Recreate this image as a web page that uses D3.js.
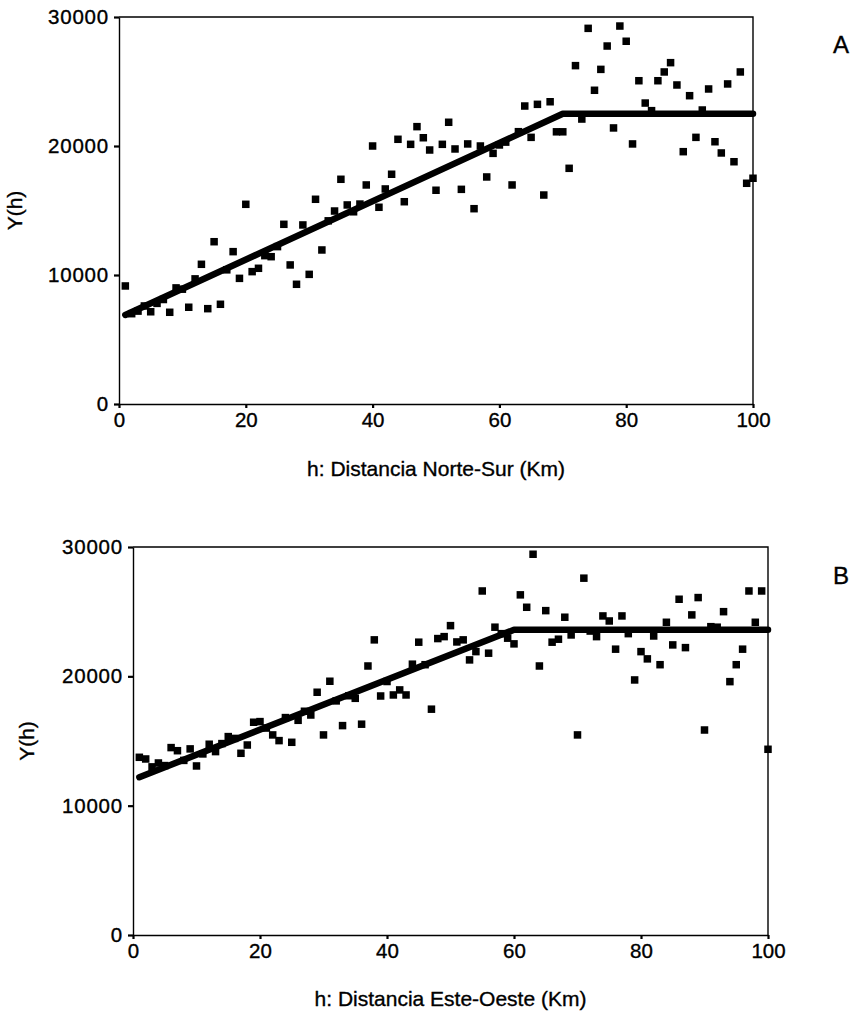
<!DOCTYPE html>
<meta charset="utf-8">
<script src="https://cdn.jsdelivr.net/npm/d3@7"></script>
<style>
  body { margin: 0; background: #fff; }
  svg text { font-family: "Liberation Sans", Arial, Helvetica, sans-serif; fill: #000; stroke: #000; stroke-width: 0.35px; }
</style>
<div id="container"></div>
<script>
 // lag distance h (km), shared by both panels
 var lagH = d3.range(1, 101);

 // panel A: experimental semivariogram, Norte-Sur
 var semivarA = [
   9150, 7000, 7200, 7600, 7150, 7800, 8100, 7110, 9000, 8900,
   7500, 9700, 10830, 7390, 12580, 7730, 10400, 11810, 9740, 15480,
   10260, 10520, 11500, 11420, 12200, 13930, 10780, 9280, 13880, 10050,
   15870, 11940, 14200, 14960, 17420, 15430, 14900, 15500, 16980, 20000,
   15250, 16670, 17810, 20520, 15680, 20130, 21500, 20640, 19690, 16570,
   20130, 21840, 19770, 16640, 20160, 15140, 20000, 17600, 19430, 20080,
   20300, 16980, 21110, 23100, 20670, 23230, 16200, 23430, 21100, 21100,
   18270, 26230, 22090, 29120, 24320, 25940, 27750, 21400, 29300, 28120,
   20160, 25060, 23330, 22740, 25060, 25740, 26460, 24730, 19560, 23900,
   20670, 22790, 24420, 20330, 19460, 24810, 18780, 25740, 17110, 17500
 ];
 // panel A: fitted model (knots)
 var modelAH = [1, 70, 100];
 var modelAY = [6900, 22500, 22500];

 // panel B: experimental semivariogram, Este-Oeste
 var semivarB = [
   13740, 13610, 13000, 13300, 13100, 14490, 14250, 13500, 14390, 13070,
   14000, 14750, 14180, 14800, 15340, 15200, 14050, 14690, 16450, 16500,
   16000, 15470, 15030, 16810, 14900, 16600, 17300, 17010, 18770, 15470,
   19620, 18100, 16190, 18500, 18300, 16300, 20800, 22820, 18480, 19600,
   18560, 18950, 18560, 20940, 22640, 20900, 17460, 22920, 23070, 23920,
   22660, 22820, 21270, 21910, 26600, 21790, 23800, 23300, 22950, 22510,
   26300, 25340, 29440, 20800, 25080, 22640, 22870, 24570, 23200, 15470,
   27590, 23500, 23070, 24670, 24280, 22100, 24670, 23300, 19720, 21910,
   21350, 23120, 20900, 24180, 22430, 25960, 22220, 24750, 26090, 15850,
   23840, 23800, 25000, 19590, 20900, 22100, 26600, 24180, 26600, 14360
 ];
 var modelBH = [1, 60, 100];
 var modelBY = [12200, 23600, 23600];

 var xTicks = [0, 20, 40, 60, 80, 100];
 var yTicks = [0, 10000, 20000, 30000];

 var width = 856, height = 1013;

 var svg = d3.select("#container").append("svg")
             .attr("width", width)
             .attr("height", height);

 var panels = [
   {h: lagH, y: semivarA, mh: modelAH, my: modelAY, label: "A",
    xTitle: "h: Distancia Norte-Sur (Km)",
    left: 119, right: 753, top: 17, bottom: 404,
    xTitleY: 470, yTitleX: 16, labelY: 47},
   {h: lagH, y: semivarB, mh: modelBH, my: modelBY, label: "B",
    xTitle: "h: Distancia Este-Oeste (Km)",
    left: 133, right: 768, top: 547, bottom: 935,
    xTitleY: 1000, yTitleX: 28, labelY: 578}
 ];

 panels.forEach(drawPanel);

 function drawPanel(p) {
     var x = d3.scaleLinear().domain([0, 100]).range([p.left, p.right]);
     var y = d3.scaleLinear().domain([0, 30000]).range([p.bottom, p.top]);
     var g = svg.append("g");

     // frame: top and right sides
     g.append("path")
      .attr("d", `M${p.left},${p.top}H${p.right}V${p.bottom}`)
      .attr("fill", "none")
      .attr("stroke", "#000")
      .attr("stroke-width", 1.4);

     var xAxis = g.append("g")
                  .attr("transform", `translate(0,${p.bottom})`)
                  .call(d3.axisBottom(x).tickValues(xTicks).tickSize(4).tickSizeOuter(0).tickPadding(4));
     var yAxis = g.append("g")
                  .attr("transform", `translate(${p.left},0)`)
                  .call(d3.axisLeft(y).tickValues(yTicks).tickSize(5).tickSizeOuter(0).tickPadding(5)
                                      .tickFormat(d3.format("d")));

     [xAxis, yAxis].forEach(function(a) {
         a.select(".domain").attr("stroke-width", 1.4);
         a.selectAll(".tick line").attr("stroke-width", 2.2);
         a.selectAll(".tick text").attr("font-size", 20.5).attr("fill", "#000")
          .style("font-family", "'Liberation Sans', Arial, sans-serif");
     });
     yAxis.selectAll(".tick text").attr("letter-spacing", 0.8);

     // model line (drawn as a heavy dotted trace)
     var pts = p.mh.map((h, i) => [x(h), y(p.my[i])]);
     g.append("path")
      .attr("d", d3.line()(pts))
      .attr("fill", "none")
      .attr("stroke", "#000")
      .attr("stroke-width", 6.5)
      .attr("stroke-linecap", "round")
      .attr("stroke-linejoin", "round");

     // experimental points
     var s = 7.5;
     g.selectAll("rect.pt")
      .data(p.h.map((h, i) => [h, p.y[i]]))
      .enter()
      .append("rect")
      .attr("class", "pt")
      .attr("x", d => x(d[0]) - s / 2)
      .attr("y", d => y(d[1]) - s / 2)
      .attr("width", s)
      .attr("height", s)
      .attr("fill", "#000");

     g.append("text")
      .attr("x", (p.left + p.right) / 2)
      .attr("y", p.xTitleY)
      .attr("text-anchor", "middle")
      .attr("dominant-baseline", "middle")
      .attr("font-size", 21)
      .text(p.xTitle);

     g.append("text")
      .attr("transform", `translate(${p.yTitleX},${(p.top + p.bottom) / 2}) rotate(-90)`)
      .attr("text-anchor", "middle")
      .attr("dominant-baseline", "middle")
      .attr("font-size", 21)
      .text("Y(h)");

     g.append("text")
      .attr("x", 841)
      .attr("y", p.labelY)
      .attr("text-anchor", "middle")
      .attr("dominant-baseline", "middle")
      .attr("font-size", 24)
      .text(p.label);
 }
</script>
